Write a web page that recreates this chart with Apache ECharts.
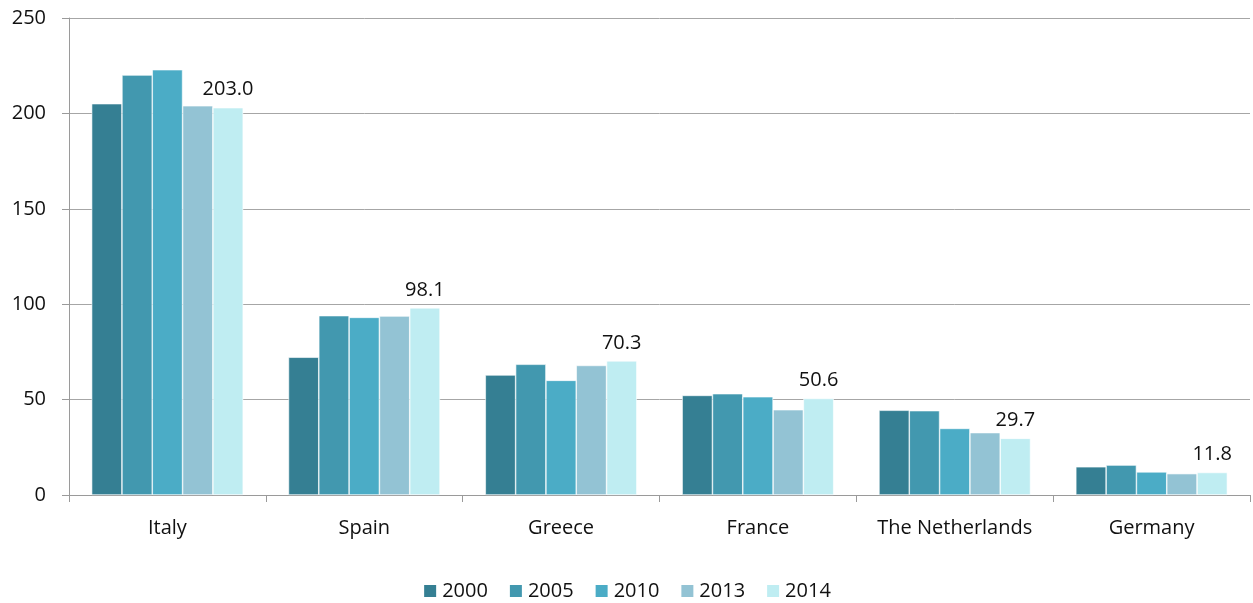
<!DOCTYPE html>
<html>
<head>
<meta charset="utf-8">
<script src="https://cdn.jsdelivr.net/npm/echarts@6/dist/echarts.min.js"></script>
<style>
  html, body { margin: 0; padding: 0; background: #fff; }
  #chart { width: 1253px; height: 603px; }
</style>
</head>
<body>
<div id="chart"></div>
<script>
const countries = ['Italy', 'Spain', 'Greece', 'France', 'The Netherlands', 'Germany']
const years = ['2000', '2005', '2010', '2013', '2014']
const y2000 = [205.1, 72.2, 62.9, 52.2, 44.4, 14.8]
const y2005 = [220.1, 94.0, 68.5, 53.1, 44.2, 15.7]
const y2010 = [222.9, 93.1, 60.1, 51.5, 34.9, 12.1]
const y2013 = [204.0, 93.8, 67.9, 44.7, 32.7, 11.2]
const y2014 = [203.0, 98.1, 70.3, 50.6, 29.7, 11.8]
const yTicks = [0, 50, 100, 150, 200, 250]

const colors = ['#357f93', '#4298af', '#4bacc6', '#93c3d4', '#bfedf2']
const fontFamily = '"Open Sans", "Noto Sans", sans-serif'

const chart = echarts.init(document.getElementById('chart'))

const allSeries = [y2000, y2005, y2010, y2013, y2014].map((data, i) => ({
  name: years[i],
  type: 'bar',
  data: data,
  barGap: '0%',
  barCategoryGap: '23%',
  itemStyle: {
    color: colors[i],
    borderColor: '#ffffff',
    borderWidth: 0.6
  },
  label: {
    // only the latest year is labelled
    show: i === years.length - 1,
    position: 'top',
    distance: 8,
    color: '#111',
    fontSize: 20,
    fontFamily: fontFamily,
    formatter: p => p.value.toFixed(1)
  },
  animation: false
}))

chart.setOption({
  color: colors,
  grid: {
    left: 69,
    right: 3,
    top: 18,
    bottom: 108,
    containLabel: false
  },
  legend: {
    data: years,
    bottom: -3,
    left: 'center',
    itemWidth: 14,
    itemHeight: 14,
    itemGap: 20,
    icon: 'rect',
    textStyle: { fontSize: 20, color: '#111', fontFamily: fontFamily }
  },
  xAxis: {
    type: 'category',
    data: countries,
    axisLine: { lineStyle: { color: '#9a9a9a', width: 1 } },
    axisTick: { show: true, interval: 0, length: 7, lineStyle: { color: '#9a9a9a' } },
    axisLabel: { interval: 0, fontSize: 20, color: '#111', fontFamily: fontFamily, margin: 23 }
  },
  yAxis: {
    type: 'value',
    min: yTicks[0],
    max: yTicks[yTicks.length - 1],
    interval: 50,
    axisLine: { show: true, lineStyle: { color: '#9a9a9a', width: 1 } },
    axisTick: { show: true, length: 7, lineStyle: { color: '#9a9a9a' } },
    splitLine: { lineStyle: { color: '#a6a6a6', width: 1 } },
    axisLabel: { fontSize: 20, color: '#111', fontFamily: fontFamily, margin: 23 }
  },
  series: allSeries
})
</script>
</body>
</html>
